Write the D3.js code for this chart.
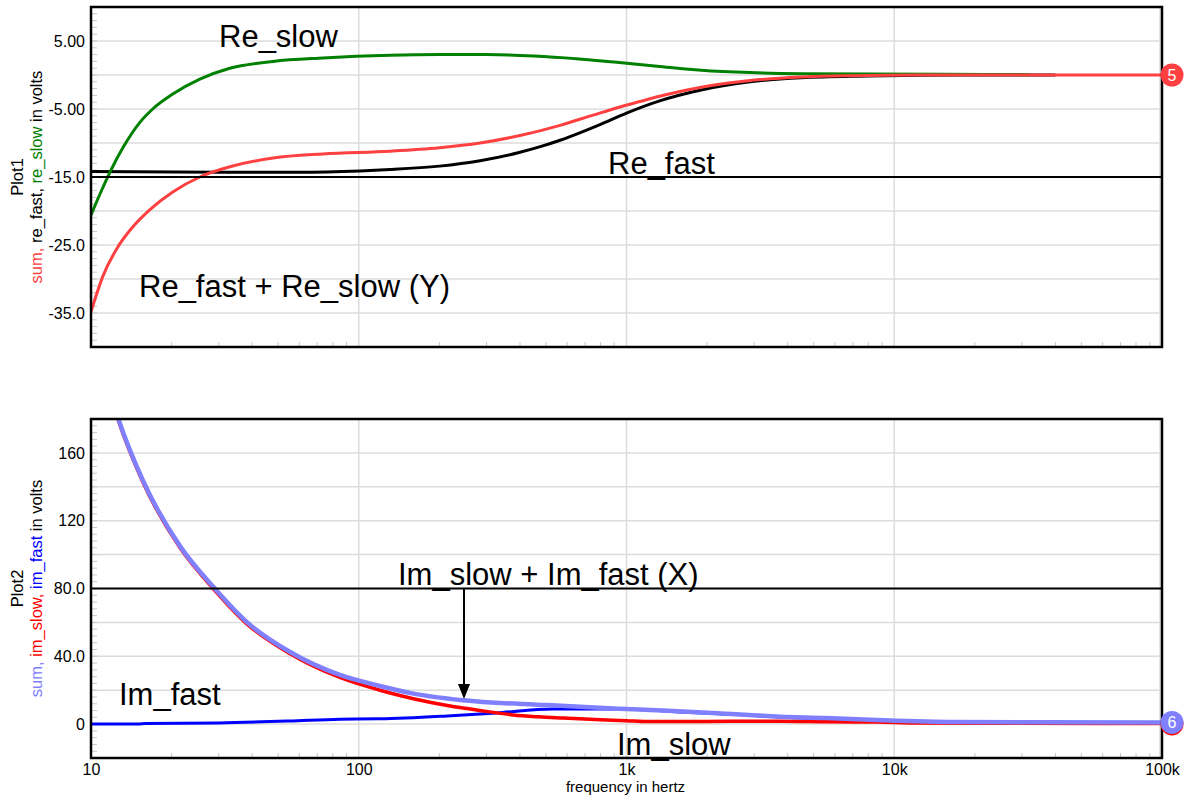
<!DOCTYPE html>
<html>
<head>
<meta charset="utf-8">
<script src="https://cdn.jsdelivr.net/npm/d3@7"></script>
<style>
  body { margin: 0; background: #fff; }
  text { font-family: "Liberation Sans", Arial, Helvetica, sans-serif; }
</style>
</head>
<body>
<svg id="chart" width="1186" height="798"></svg>
<script>
/* data */
// Plot1 (real parts)
var reSumF  = [10, 11.1, 12.5, 14, 16.6, 20.2, 25.5, 33, 47.9, 73.5, 131, 200, 284, 400, 565, 750, 946, 1122, 1400, 1900, 2900, 4500, 7000, 12000, 100000];
var reSumV  = [-34.8, -29.5, -25.5, -22.8, -19.8, -17.2, -15.0, -13.5, -12.2, -11.6, -11.2, -10.7, -10.0, -8.9, -7.4, -5.9, -4.7, -3.9, -2.9, -1.8, -0.8, -0.3, -0.1, 0, 0];
var reFastF = [10, 30, 60, 101, 131, 200, 284, 397, 480, 565, 680, 796, 1000, 1330, 1900, 2900, 4500, 8000, 20000, 40000];
var reFastV = [-14.2, -14.3, -14.3, -14.1, -13.9, -13.4, -12.6, -11.4, -10.5, -9.6, -8.4, -7.3, -5.6, -3.8, -2.2, -1.0, -0.4, -0.15, 0, 0];
var reSlowF = [10, 11, 11.8, 13.2, 15.2, 17, 20.2, 25.5, 33, 47.9, 73.5, 131, 200, 300, 450, 650, 900, 1300, 1900, 2900, 4500, 8000, 15000, 32000];
var reSlowV = [-20.6, -16.8, -14.2, -10.6, -7.0, -5.0, -2.8, -0.6, 1.0, 2.0, 2.5, 2.9, 3.0, 3.0, 2.8, 2.4, 1.9, 1.3, 0.7, 0.35, 0.2, 0.15, 0.1, 0.05];

// Plot2 (imaginary parts)
var imSumF  = [10, 11, 12.6, 15.6, 21.5, 28.6, 38.3, 55.4, 85, 120, 160, 245, 505, 1000, 2100, 3740, 5600, 8600, 17000, 100000];
var imSumV  = [237, 213, 181, 144, 105, 81, 60, 42.5, 29, 22.5, 18, 14.1, 11.2, 8.9, 6.6, 4.4, 3.6, 2.4, 1.2, 1.0];
var imSlowF = [10, 11, 12.6, 15.6, 21.5, 28.6, 38.3, 55.4, 85, 120, 160, 214, 245, 300, 377, 470, 579, 800, 1000, 1200, 2000, 3700, 5600, 8600, 12000, 20000, 100000];
var imSlowV = [236, 212, 180, 143, 104, 80, 59, 41.5, 27.5, 20, 15, 11, 9.5, 7.5, 5.4, 4.3, 3.6, 2.6, 2.0, 1.5, 1.6, 1.7, 1.4, 1.2, 0.7, 0.5, 0.3];
var imFastF = [10, 15, 16, 30, 55, 85, 120, 214, 328, 530, 1000, 1585, 2800, 3740, 5600, 8600, 17000, 100000];
var imFastV = [0, 0, 0.4, 0.7, 1.8, 2.9, 3.1, 4.8, 6.6, 8.9, 8.9, 7.2, 5.4, 4.2, 3.0, 1.8, 1.0, 0.8];

// ticks
var xTicks = [10, 100, 1000, 10000, 100000];
var xTickLabels = ["10", "100", "1k", "10k", "100k"];
var topTicks = [5, -5, -15, -25, -35];
var topTickLabels = ["5.00", "-5.00", "-15.0", "-25.0", "-35.0"];
var botTicks = [160, 120, 80, 40, 0];
var botTickLabels = ["160", "120", "80.0", "40.0", "0"];

/* helpers */
function zip(fs, vs) {
  return fs.map(function (f, i) { return [f, vs[i]]; });
}

var svg = d3.select('#chart');
var left = 91, right = 1162;

var x = d3.scaleLog().domain([10, 100000]).range([left, right]);
var yTop = d3.scaleLinear().domain([-40, 10]).range([347, 7]);
var yBot = d3.scaleLinear().domain([-20, 180]).range([758, 419]);

// minor decade ticks 2..9
var minorX = [];
[10, 100, 1000, 10000].forEach(function (d) {
  for (var k = 2; k < 10; k++) minorX.push(d * k);
});

function drawPanel(y, gridStep, minorStep, ticks, labels, id) {
  var g = svg.append('g');
  var dom = y.domain();

  // horizontal grid
  g.selectAll('.hg').data(d3.range(dom[0], dom[1] + 0.001, gridStep))
    .enter().append('line')
      .attr('x1', left).attr('x2', right)
      .attr('y1', function (d) { return y(d); })
      .attr('y2', function (d) { return y(d); })
      .attr('stroke', '#dcdcdc').attr('stroke-width', 1.5);

  // vertical grid at decades
  g.selectAll('.vg').data([100, 1000, 10000, 100000])
    .enter().append('line')
      .attr('x1', function (d) { return x(d) - (d === 100000 ? 2 : 0); })
      .attr('x2', function (d) { return x(d) - (d === 100000 ? 2 : 0); })
      .attr('y1', y.range()[1]).attr('y2', y.range()[0])
      .attr('stroke', '#dcdcdc').attr('stroke-width', 1.5);

  // left minor ticks
  g.selectAll('.ly').data(d3.range(dom[0], dom[1] + 0.001, minorStep))
    .enter().append('line')
      .attr('x1', left).attr('x2', left + 6)
      .attr('y1', function (d) { return y(d); })
      .attr('y2', function (d) { return y(d); })
      .attr('stroke', '#c8c8c8').attr('stroke-width', 1);

  // bottom minor ticks
  g.selectAll('.bx').data(minorX)
    .enter().append('line')
      .attr('x1', function (d) { return x(d); })
      .attr('x2', function (d) { return x(d); })
      .attr('y1', y.range()[0] - 5).attr('y2', y.range()[0])
      .attr('stroke', '#c8c8c8').attr('stroke-width', 1);

  // y axis labels
  var ax = d3.axisLeft(y).tickValues(ticks).tickSize(0).tickPadding(6)
    .tickFormat(function (d, i) { return labels[i]; });
  var a = svg.append('g').attr('transform', 'translate(' + left + ',0)').call(ax);
  a.select('.domain').remove();
  a.selectAll('text').attr('font-size', 16).attr('fill', '#000')
    .style('font-family', '"Liberation Sans", Arial, sans-serif');

  // clip
  svg.append('clipPath').attr('id', id)
    .append('rect')
      .attr('x', left).attr('y', y.range()[1])
      .attr('width', right - left).attr('height', y.range()[0] - y.range()[1]);
  return g;
}

function curve(y, data, color, width, clip) {
  var line = d3.line()
    .x(function (d) { return x(d[0]); })
    .y(function (d) { return y(d[1]); })
    .curve(d3.curveMonotoneX);
  svg.append('path')
    .attr('d', line(data))
    .attr('fill', 'none')
    .attr('stroke', color)
    .attr('stroke-width', width)
    .attr('stroke-linejoin', 'round')
    .attr('clip-path', 'url(#' + clip + ')');
}

function hline(y, v) {
  svg.append('line')
    .attr('x1', left).attr('x2', right)
    .attr('y1', y(v)).attr('y2', y(v))
    .attr('stroke', '#000').attr('stroke-width', 2);
}

function label(txt, tx, ty) {
  svg.append('text').attr('x', tx).attr('y', ty)
    .attr('font-size', 31).attr('fill', '#000').text(txt);
}

function frame(y) {
  svg.append('rect')
    .attr('x', left).attr('y', y.range()[1])
    .attr('width', right - left).attr('height', y.range()[0] - y.range()[1])
    .attr('fill', 'none').attr('stroke', '#000').attr('stroke-width', 2.5);
}

function yTitle(y, name, parts) {
  var cy = (y.range()[0] + y.range()[1]) / 2;
  svg.append('text')
    .attr('transform', 'translate(23,' + cy + ') rotate(-90)')
    .attr('text-anchor', 'middle').attr('font-size', 16.5).text(name);
  var t = svg.append('text')
    .attr('transform', 'translate(42,' + cy + ') rotate(-90)')
    .attr('text-anchor', 'middle').attr('font-size', 16.5);
  parts.forEach(function (p) {
    t.append('tspan').attr('fill', p[1]).text(p[0]);
  });
}

function marker(cx, cy, fill, txt, under) {
  if (under) {
    svg.append('circle').attr('cx', cx).attr('cy', cy + 1.5).attr('r', 11.5).attr('fill', under);
  }
  svg.append('circle').attr('cx', cx).attr('cy', cy).attr('r', 11.5).attr('fill', fill);
  svg.append('text').attr('x', cx).attr('y', cy + 5.5)
    .attr('text-anchor', 'middle').attr('font-size', 16).attr('fill', '#fff').text(txt);
}

/* Plot1 */
drawPanel(yTop, 5, 1, topTicks, topTickLabels, 'clipTop');
curve(yTop, zip(reFastF, reFastV), '#000000', 3, 'clipTop');
curve(yTop, zip(reSlowF, reSlowV), '#008000', 3, 'clipTop');
curve(yTop, zip(reSumF, reSumV), '#ff4040', 3, 'clipTop');
hline(yTop, -15);
label('Re_slow', 219, 47);
label('Re_fast', 608, 174);
label('Re_fast + Re_slow (Y)', 139, 297);
frame(yTop);
yTitle(yTop, 'Plot1', [['sum, ', '#ff4040'], ['re_fast, ', '#000'], ['re_slow', '#008000'], [' in volts', '#000']]);

/* Plot2 */
drawPanel(yBot, 20, 4, botTicks, botTickLabels, 'clipBot');
curve(yBot, zip(imFastF, imFastV), '#0000ff', 3, 'clipBot');
curve(yBot, zip(imSlowF, imSlowV), '#ff0000', 3.5, 'clipBot');
curve(yBot, zip(imSumF, imSumV), '#8080ff', 4.5, 'clipBot');
label('Im_slow + Im_fast (X)', 398, 585);
hline(yBot, 80);
label('Im_fast', 119, 705);
label('Im_slow', 617, 755);

// arrow
var ax0 = 464;
svg.append('line')
  .attr('x1', ax0).attr('x2', ax0)
  .attr('y1', yBot(80)).attr('y2', 686)
  .attr('stroke', '#000').attr('stroke-width', 2);
svg.append('path')
  .attr('d', 'M' + (ax0 - 6) + ',684 L' + (ax0 + 6) + ',684 L' + ax0 + ',699 Z')
  .attr('fill', '#000');

frame(yBot);
yTitle(yBot, 'Plot2', [['sum, ', '#8080ff'], ['im_slow, ', '#ff0000'], ['im_fast', '#0000ff'], [' in volts', '#000']]);

// x axis labels
var xa = d3.axisBottom(x).tickValues(xTicks).tickSize(0).tickPadding(6)
  .tickFormat(function (d, i) { return xTickLabels[i]; });
var xg = svg.append('g').attr('transform', 'translate(0,758)').call(xa);
xg.select('.domain').remove();
xg.selectAll('text').attr('font-size', 16).attr('fill', '#000')
  .style('font-family', '"Liberation Sans", Arial, sans-serif');

svg.append('text').attr('x', (left + right) / 2 - 1).attr('y', 792)
  .attr('text-anchor', 'middle').attr('font-size', 15).text('frequency in hertz');

// end markers
var lastTop = reSumV[reSumV.length - 1];
var lastBot = imSumV[imSumV.length - 1];
marker(right + 10, yTop(lastTop), '#ff4040', '5');
marker(right + 10, yBot(lastBot), '#8080ff', '6', '#ff0000');
</script>
</body>
</html>
